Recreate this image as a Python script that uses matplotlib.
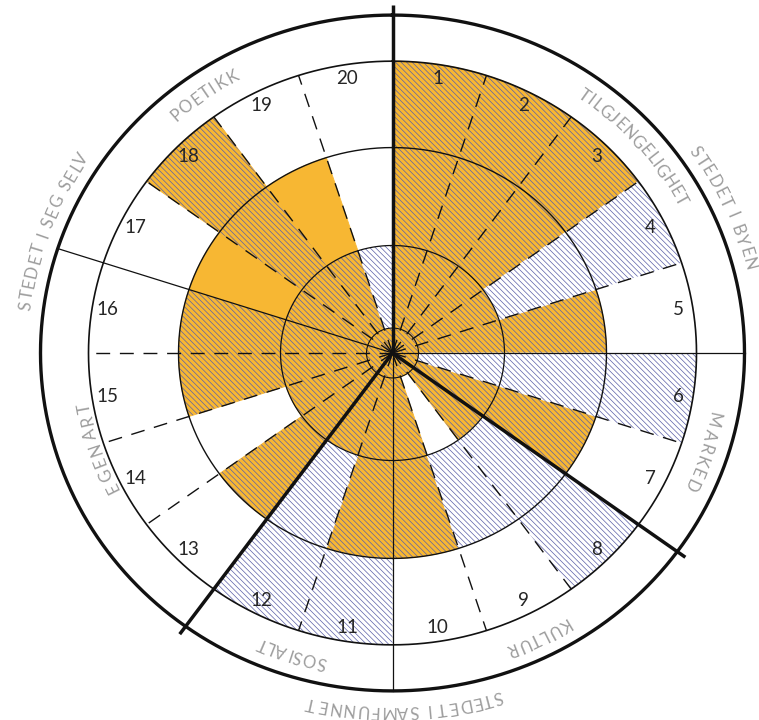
import numpy as np
import matplotlib.pyplot as plt
from matplotlib.font_manager import FontProperties, findfont, get_font

# sectors 1..20 go clockwise from the top, 18 degrees each
sectors = list(range(1, 21))

# fill of each ring per sector: O = orange hatched, S = solid orange, B = blue hatched, W = white
core_ring = ['O'] * 20
inner_ring = ['O', 'O', 'O', 'O', 'O', 'B', 'O', 'O', 'W', 'O',
              'O', 'O', 'O', 'O', 'O', 'O', 'O', 'O', 'O', 'B']
middle_ring = ['O', 'O', 'O', 'B', 'O', 'B', 'O', 'B', 'B', 'O',
               'O', 'B', 'O', 'W', 'O', 'O', 'S', 'O', 'S', 'W']
outer_ring = ['O', 'O', 'O', 'B', 'W', 'B', 'W', 'B', 'W', 'W',
              'B', 'B', 'W', 'W', 'W', 'W', 'W', 'O', 'W', 'W']

groups = ['STEDET I BYEN', 'STEDET I SAMFUNNET', 'STEDET I SEG SELV']
group_sizes = [7, 5, 8]
subgroups = ['TILGJENGELIGHET', 'MARKED', 'KULTUR', 'SOSIALT', 'EGENART', 'POETIKK']
subgroup_sizes = [5, 2, 3, 2, 4, 4]

# radial scale: ring edges and the outer rim
levels = [26, 112, 214, 304]
rim = 352

# where the curved labels sit (start angle, end angle, radius)
group_pos = [(55.3, 75.4, 368), (163.6, 192.6, 373), (277.7, 303.0, 370)]
subgroup_pos = [(35.6, 61.0, 329), (102.2, 114.8, 328), (148.8, 159.0, 330),
                (192.4, 203.2, 329), (243.5, 259.5, 313), (319.0, 330.9, 329)]

orange = '#f7b733'
hatch_col = '#5b60a8'
label_grey = '#9d9d9d'
hatch = '\\' * 6

plt.rcParams['hatch.linewidth'] = 0.5

fig = plt.figure(figsize=(7.59, 7.2), dpi=100)
ax = fig.add_axes([12.5 / 759, 2.2 / 720, 760 / 759, 729.6 / 720], projection='polar')
ax.set_aspect('auto')  # the original is a little squashed vertically
ax.set_theta_zero_location('N')
ax.set_theta_direction(-1)
ax.set_ylim(0, 380)
ax.axis('off')

n = len(sectors)
step = 2 * np.pi / n
theta = np.arange(n) * step + step / 2


def draw_ring(codes, r0, r1):
    for code in 'OSB':
        idx = [i for i, c in enumerate(codes) if c == code]
        if not idx:
            continue
        face = 'white' if code == 'B' else orange
        ax.bar(theta[idx], r1 - r0, width=step, bottom=r0, color=face,
               edgecolor=face, linewidth=0.6, zorder=1)
        if code != 'S':
            ax.bar(theta[idx], r1 - r0, width=step, bottom=r0, facecolor='none',
                   edgecolor=hatch_col, linewidth=0, hatch=hatch, zorder=2)


draw_ring(core_ring, 0, levels[0])
draw_ring(inner_ring, levels[0], levels[1])
draw_ring(middle_ring, levels[1], levels[2])
draw_ring(outer_ring, levels[2], levels[3])

# circles
circle_t = np.linspace(0, 2 * np.pi, 721)
for r, lw in zip(levels + [rim], [0.8, 0.9, 1.0, 1.2, 2.4]):
    ax.plot(circle_t, np.full_like(circle_t, r), color='#111111', lw=lw, zorder=3)

# radial lines: thick between groups, thin between subgroups, dashed elsewhere
group_edges = set(np.cumsum([0] + group_sizes[:-1]))
sub_edges = set(np.cumsum([0] + subgroup_sizes[:-1]))
for k in range(n):
    a = k * step
    if k in group_edges:
        ax.plot([a, a], [0, 362], color='#111111', lw=2.5, zorder=4, solid_capstyle='butt')
    elif k in sub_edges:
        ax.plot([a, a], [0, rim], color='#111111', lw=0.9, zorder=3)
    else:
        ax.plot([a, a], [0, levels[-1]], color='#111111', lw=1.0, dashes=(10, 7), zorder=3)

# sector numbers
for i, s in enumerate(sectors):
    ax.text(theta[i], 289, str(s), ha='center', va='center', fontsize=13.5,
            color='#262626', family='Lato', zorder=5)

# curved labels, letter by letter, clockwise with tops pointing outwards
fsize = 12
fp = FontProperties(family='Lato', size=fsize)
font = get_font(findfont(fp))
font.set_size(fsize, 72)
px = 100 / 72
em = fsize * px
kern = {('L', 'T'): -0.13, ('L', 'V'): -0.11, ('A', 'T'): -0.06, ('R', 'T'): -0.03}


def curved(label, a0, a1, r):
    # normal pen layout (advance + small kerning), then even tracking to fill the arc
    pen, ink_mid = 0.0, []
    for i, ch in enumerate(label):
        g = font.load_char(ord(ch))
        ink_mid.append(pen + (g.horiBearingX + g.width / 2) / 64 * px)
        pen += g.linearHoriAdvance / 65536 * px
        if i + 1 < len(label):
            pen += kern.get((ch, label[i + 1]), 0) * em
    ink_mid = np.array(ink_mid) - ink_mid[0]
    span = np.radians(a1 - a0) * r
    track = (span - ink_mid[-1]) / (len(label) - 1)
    for i, ch in enumerate(label):
        if ch == ' ':
            continue
        ang = a0 + np.degrees((ink_mid[i] + i * track) / r)
        ax.text(np.radians(ang), r, ch, rotation=-ang, rotation_mode='anchor',
                ha='center', va='center', fontproperties=fp,
                color=label_grey, zorder=5)


for name, (a0, a1, r) in zip(groups, group_pos):
    curved(name, a0, a1, r)
for name, (a0, a1, r) in zip(subgroups, subgroup_pos):
    curved(name, a0, a1, r)

fig.savefig('out.png', dpi=100)
